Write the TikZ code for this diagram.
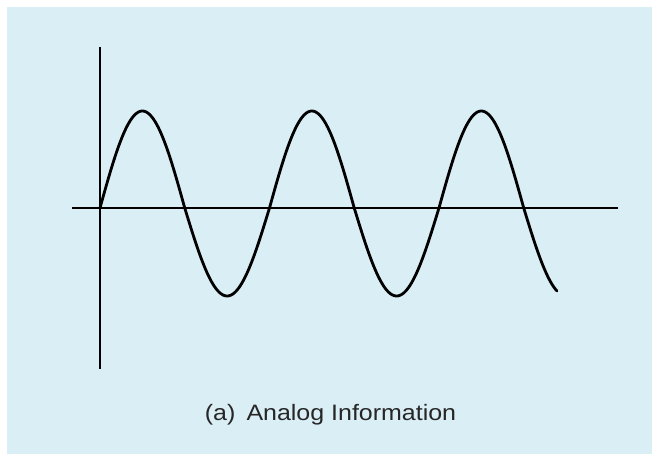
\documentclass[tikz,border=0pt]{standalone}
\usepackage{fontspec}
\setmainfont{Liberation Sans}
\newfontfamily\capfont[FakeStretch=1.12]{Liberation Sans}
\definecolor{bgblue}{HTML}{DAEEF5}
\begin{document}
\begin{tikzpicture}[x=1pt,y=-1pt,
  axis/.style={line width=2.8pt, black},
  wave/.style={line width=2.8pt, black, line cap=round, line join=round}]
\useasboundingbox (0,0) rectangle (652,454);
\fill[white] (0,0) rectangle (652,454);
\fill[bgblue] (7,7) rectangle (652,454);
\coordinate (vtop) at (100,47);
\coordinate (vbot) at (100,369);
\coordinate (hl) at (72,208);
\coordinate (hr) at (618,208);
\draw[axis] (vtop) -- (vbot);
\draw[axis] (hl) -- (hr);
\draw[wave] plot[variable=\t, domain=0:970.6, samples=300, smooth] ({100+\t*0.4708}, {208 - (sin(\t) > 0 ? 97 : 88)*sin(\t)});
\node[font=\capfont\fontsize{22.3}{24}\selectfont, anchor=base, text=black!85, inner sep=0pt] (cap) at (330.5,420) {(a)\hspace{0.5em}Analog Information};
\end{tikzpicture}
\end{document}
